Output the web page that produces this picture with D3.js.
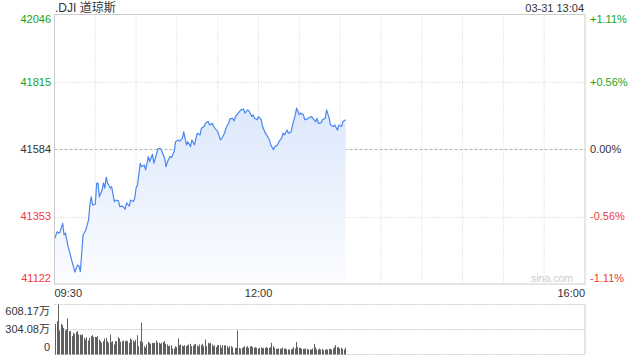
<!DOCTYPE html>
<html>
<head>
<meta charset="utf-8">
<script src="https://cdn.jsdelivr.net/npm/d3@7"></script>
<style>
  body { margin: 0; background: #fff; }
  text { font-family: Arial, "Liberation Sans", "Noto Sans CJK SC", sans-serif; }
</style>
</head>
<body>
<div id="chart"></div>
<script>
// minutes after 09:30 and index level
const minutes = [0,2,3,4,6,7,8,10,11,13,14,15,17,18,19,21,23,25,26,27,
  28,30,31,32,33,35,36,37,38,39,41,42,44,45,47,48,50,52,53,55,
  56,58,59,60,61,63,64,66,67,69,70,72,73,75,76,78,79,81,82,83,
  85,86,88,89,91,92,94,95,97,98,100,101,103,104,105,107,108,110,111,113,
  114,116,117,119,120,122,123,125,126,128,129,131,132,133,135,136,137,139,140,142,
  143,145,146,147,149,150,152,153,155,156,158,159,161,162,164,165,167,168,169,171,
  172,174,175,177,178,180,181,183,184,186,187,189,190,192,193,194,196,197,199,200,
  202,203,205,206,208,209,211,212,214];
const prices = [41276,41301,41297,41299,41330,41290,41297,41250,41233,41197,
  41181,41163,41187,41184,41164,41290,41307,41341,41393,41421,
  41393,41396,41467,41468,41421,41444,41469,41451,41488,41468,
  41451,41456,41404,41410,41407,41387,41389,41379,41400,41389,
  41410,41405,41417,41451,41462,41536,41524,41530,41513,41559,
  41541,41567,41536,41567,41585,41587,41576,41553,41524,41541,
  41559,41556,41576,41610,41616,41612,41622,41644,41599,41610,
  41593,41616,41599,41622,41639,41633,41656,41662,41673,41679,
  41667,41673,41662,41650,41644,41616,41622,41639,41656,41673,
  41688,41690,41681,41696,41708,41713,41719,41722,41708,41719,
  41715,41696,41702,41690,41685,41696,41685,41662,41639,41633,
  41616,41599,41582,41593,41599,41610,41622,41639,41633,41650,
  41639,41644,41667,41702,41725,41702,41708,41702,41685,41688,
  41692,41696,41690,41679,41690,41673,41675,41685,41690,41719,
  41690,41667,41662,41667,41650,41667,41662,41679,41685];
// per-minute volume, 万
const volumes = [373,405,608,292,373,357,324,292,304,438,
  284,284,223,264,251,272,284,243,243,235,
  243,203,182,211,170,203,223,235,211,215,
  211,223,182,162,142,162,195,203,162,142,
  243,150,162,122,162,162,211,195,154,162,
  170,162,170,162,142,195,182,170,154,178,
  235,101,162,385,150,101,81,122,154,142,
  130,142,138,142,170,146,142,130,142,150,
  162,130,122,101,109,114,73,73,101,89,
  195,114,122,109,101,114,101,114,122,130,
  101,109,122,130,109,97,122,114,130,
  101,182,101,142,134,142,122,101,114,89,
  114,114,114,81,114,109,114,101,81,101,
  101,89,20,81,81,292,81,73,81,89,
  101,89,101,81,101,101,89,81,89,81,
  73,81,89,73,81,81,89,81,81,89,
  142,101,81,69,69,73,69,73,81,73,
  73,61,61,61,61,73,89,73,154,89,
  81,81,69,69,69,73,69,61,61,61,
  73,130,89,61,61,73,61,69,53,61,
  61,61,69,69,61,73,89,114,89,89,
  73,81,69,61,81];

const prevClose = 41584;
const priceTicks = [42046, 41815, 41584, 41353, 41122];
const pctLabels = ["+1.11%", "+0.56%", "0.00%", "-0.56%", "-1.11%"];
const volTicks = [608.17, 304.08, 0];
const volLabels = ["608.17万", "304.08万", "0"];
const timeTicks = [0, 150, 390];
const timeLabels = ["09:30", "12:00", "16:00"];

const width = 640, height = 360;
const left = 54.5, right = 585;

const svg = d3.select("#chart").append("svg")
  .attr("width", width)
  .attr("height", height);

const x = d3.scaleLinear().domain([0, 390]).range([left, right]);
const y = d3.scaleLinear().domain([41122, 42046]).range([284, 14.5]);
const yv = d3.scaleLinear().domain([0, 608.17]).range([354.5, 304.5]);

const colorOf = v => v > prevClose ? "#1aa31a" : v < prevClose ? "#f23a3a" : "#333";

// gradient fill
const grad = svg.append("defs").append("linearGradient")
  .attr("id", "fill").attr("gradientUnits", "userSpaceOnUse")
  .attr("x1", 0).attr("x2", 0).attr("y1", 100).attr("y2", 284);
grad.append("stop").attr("offset", 0).attr("stop-color", "#dbe7fb");
grad.append("stop").attr("offset", 1).attr("stop-color", "#fbfcff");

// vertical grid every 30 min
svg.append("g")
  .selectAll("line")
  .data(d3.range(30, 390, 30))
  .join("line")
    .attr("x1", d => x(d)).attr("x2", d => x(d))
    .attr("y1", 14.5).attr("y2", 284)
    .attr("stroke", "#cfcfcf")
    .attr("stroke-dasharray", "1,2");

// horizontal grid
svg.append("g")
  .selectAll("line")
  .data(priceTicks.slice(1, -1))
  .join("line")
    .attr("x1", left).attr("x2", right)
    .attr("y1", d => Math.round(y(d)) + 0.5).attr("y2", d => Math.round(y(d)) + 0.5)
    .attr("stroke", d => d === prevClose ? "#b0b0b0" : "#cfcfcf")
    .attr("stroke-dasharray", d => d === prevClose ? "3,2" : "1,2");

const pts = minutes.map((m, i) => ({ m, p: prices[i] }));

svg.append("path")
  .datum(pts)
  .attr("fill", "url(#fill)")
  .attr("d", d3.area().x(d => x(d.m)).y0(284).y1(d => y(d.p)));

svg.append("path")
  .datum(pts)
  .attr("fill", "none")
  .attr("stroke", "#4a86ee")
  .attr("stroke-width", 1.2)
  .attr("stroke-linejoin", "round")
  .attr("d", d3.line().x(d => x(d.m)).y(d => y(d.p)));

// frame
svg.append("rect")
  .attr("x", left).attr("y", 14.5)
  .attr("width", right - left).attr("height", 284 - 14.5)
  .attr("fill", "none").attr("stroke", "#cccccc");

// left / right price labels
svg.append("g")
  .selectAll("text")
  .data(priceTicks)
  .join("text")
    .attr("x", 51)
    .attr("y", (d, i) => y(d) + (i === 0 ? 5 : i === priceTicks.length - 1 ? -6 : 0))
    .attr("dy", "0.35em")
    .attr("text-anchor", "end")
    .attr("font-size", 11)
    .attr("fill", colorOf)
    .text(d => d);

svg.append("g")
  .selectAll("text")
  .data(priceTicks)
  .join("text")
    .attr("x", 590)
    .attr("y", (d, i) => y(d) + (i === 0 ? 5 : i === priceTicks.length - 1 ? -6 : 0))
    .attr("dy", "0.35em")
    .attr("font-size", 11)
    .attr("fill", colorOf)
    .text((d, i) => pctLabels[i]);

// time labels
svg.append("g")
  .selectAll("text")
  .data(timeTicks)
  .join("text")
    .attr("x", d => x(d))
    .attr("y", 297)
    .attr("text-anchor", (d, i) => i === 0 ? "start" : i === timeTicks.length - 1 ? "end" : "middle")
    .attr("font-size", 11)
    .attr("fill", "#333")
    .text((d, i) => timeLabels[i]);

// title and time stamp
svg.append("text").attr("x", 55).attr("y", 12)
  .attr("font-size", 12).attr("fill", "#333").text(".DJI 道琼斯");
svg.append("text").attr("x", 584).attr("y", 12)
  .attr("text-anchor", "end").attr("font-size", 11).attr("fill", "#333").text("03-31 13:04");

svg.append("text").attr("x", 573).attr("y", 282)
  .attr("text-anchor", "end").attr("font-size", 10.5).attr("fill", "#cccccc").text("sina.com");

// volume panel
svg.append("g")
  .selectAll("line")
  .data(volTicks)
  .join("line")
    .attr("x1", left).attr("x2", right)
    .attr("y1", d => yv(d)).attr("y2", d => yv(d))
    .attr("stroke", "#cfcfcf")
    .attr("stroke-dasharray", "2,1");

svg.append("line")
  .attr("x1", right).attr("x2", right)
  .attr("y1", yv(608.17)).attr("y2", yv(0))
  .attr("stroke", "#cccccc");

svg.append("g")
  .attr("fill", "#606060")
  .selectAll("rect")
  .data(volumes)
  .join("rect")
    .attr("x", (d, i) => Math.round(x(i + 0.5)))
    .attr("y", d => yv(d))
    .attr("width", 1)
    .attr("height", d => yv(0) - yv(d));

svg.append("g")
  .selectAll("text")
  .data(volTicks)
  .join("text")
    .attr("x", 50)
    .attr("y", (d, i) => yv(d) + (i === 0 ? 6.5 : i === volTicks.length - 1 ? -7 : 0))
    .attr("dy", "0.35em")
    .attr("text-anchor", "end")
    .attr("font-size", 11)
    .attr("fill", "#333")
    .text((d, i) => volLabels[i]);
</script>
</body>
</html>
